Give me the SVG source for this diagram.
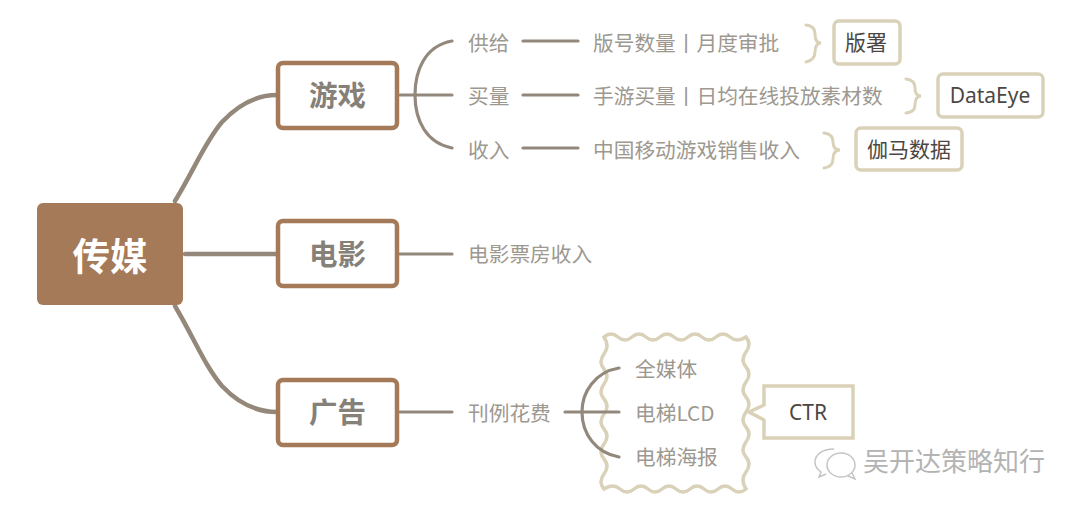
<svg xmlns="http://www.w3.org/2000/svg" width="1080" height="510" viewBox="0 0 1080 510">
<style>
text{font-family:"Noto Sans CJK SC","Noto Sans",sans-serif}
.conn{fill:none;stroke:#93887a;stroke-linecap:round}
.main{stroke-width:4.500}
.sub{stroke-width:3.200;stroke:#93887c}
.brace{fill:none;stroke:#d9d1b8;stroke-width:3;stroke-linecap:round}
.topic{fill:#fff;stroke:#a47a58;stroke-width:4.500}
.topic-t{font-size:28.500px;font-weight:700;fill:#858078;text-anchor:middle}
.leaf{font-size:20.700px;fill:#9d9890}
.tag{fill:#fff;stroke:#d9d1b8;stroke-width:3.500}
.tag-t{font-size:21px;fill:#4c4743;text-anchor:middle}
.outline{fill:#fff;stroke:#d9d1b8;stroke-width:3.500;stroke-linejoin:miter}
.wm{fill:none;stroke:#c4c4c4;stroke-width:1.500}
</style>
<rect width="1080" height="510" fill="#fff"/>
<g id="cloud"><path class="outline" d="M604 337 Q611 331 618 337 T632 337 T646 337 T660 337 T674 337 T688 337 T702 337 T716 337 T730 337 T746 337 Q752 344 746 352 T746 367 T746 382 T746 397 T746 412 T746 427 T746 442 T746 457 T746 472 T746 489 Q739 495 732 489 T718 489 T704 489 T690 489 T676 489 T662 489 T648 489 T634 489 T620 489 T604 489 Q598 482 604 474 T604 459 T604 444 T604 429 T604 414 T604 399 T604 384 T604 369 T604 354 T604 337 Z"/></g>
<g id="connectors">
<path class="conn main" d="M175 201 C195 168 205 142 222 122 C238 105 255 95 277 95"/>
<path class="conn main" d="M185 254 H277"/>
<path class="conn main" d="M175 306 C195 340 205 366 222 386 C238 403 255 412 277 412"/>
<path class="conn sub" d="M400 95 H452"/>
<path class="conn sub" d="M452 41 C424 46 415 72 415 95 C415 120 426 143 452 148"/>
<path class="conn sub" d="M523 41 H578"/>
<path class="conn sub" d="M523 95 H578"/>
<path class="conn sub" d="M523 148 H578"/>
<path class="conn sub" d="M400 254 H452"/>
<path class="conn sub" d="M400 412 H452"/>
<path class="conn sub" d="M565 412 H619"/>
<path class="conn sub" d="M619 368 C595 372 582 392 582 412 C582 434 596 453 619 457"/>
<path class="brace" d="M806 25 Q815 26 815 34 Q815 43 821 43 Q815 43 815 52 Q815 60 806 62"/>
<path class="brace" d="M906 79 Q915 80 915 88 Q915 96 921 96 Q915 96 915 105 Q915 112 906 113"/>
<path class="brace" d="M824 133 Q833 134 833 142 Q833 150 840 150 Q833 150 833 159 Q833 167 824 168"/>
</g>
<g id="n-root"><rect x="37" y="203" width="146" height="102" rx="6" fill="#a47a58"/><text x="110" y="270" font-size="37.500" font-weight="700" fill="#fff" text-anchor="middle">传媒</text></g>
<g id="n-game"><rect class="topic" x="278" y="63" width="119" height="65" rx="5"/><text class="topic-t" x="337.500" y="106">游戏</text></g>
<g id="n-film"><rect class="topic" x="278" y="221" width="119" height="65" rx="5"/><text class="topic-t" x="337.500" y="265">电影</text></g>
<g id="n-ad"><rect class="topic" x="278" y="380" width="119" height="65" rx="5"/><text class="topic-t" x="337.500" y="423">广告</text></g>
<g id="n-supply"><text class="leaf" x="468" y="51">供给</text></g>
<g id="n-buy"><text class="leaf" x="468" y="104">买量</text></g>
<g id="n-income"><text class="leaf" x="468" y="158">收入</text></g>
<g id="n-supply-d"><text class="leaf" x="593" y="51">版号数量丨月度审批</text></g>
<g id="n-buy-d"><text class="leaf" x="593" y="104">手游买量丨日均在线投放素材数</text></g>
<g id="n-income-d"><text class="leaf" x="593" y="158">中国移动游戏销售收入</text></g>
<g id="n-boxoffice"><text class="leaf" x="468" y="262">电影票房收入</text></g>
<g id="n-spend"><text class="leaf" x="468" y="421">刊例花费</text></g>
<g id="n-allmedia"><text class="leaf" x="635" y="377">全媒体</text></g>
<g id="n-lcd"><text class="leaf" x="635" y="421">电梯LCD</text></g>
<g id="n-poster"><text class="leaf" x="635" y="465">电梯海报</text></g>
<g id="n-banshu"><rect class="tag" x="834" y="21" width="66" height="43" rx="5"/><text class="tag-t" x="866" y="50">版署</text></g>
<g id="n-dataeye"><rect class="tag" x="938" y="74" width="105" height="43" rx="5"/><text class="tag-t" x="990" y="103" style="font-family:'Noto Sans',sans-serif">DataEye</text></g>
<g id="n-gamma"><rect class="tag" x="856" y="128" width="106" height="42" rx="5"/><text class="tag-t" x="909" y="157">伽马数据</text></g>
<g id="n-ctr"><path class="outline" d="M764 386 H853 V438 H764 V420 L749 412 L764 405 Z"/><text class="tag-t" x="808" y="420" style="font-family:'Noto Sans',sans-serif">CTR</text></g>
<g id="watermark">
<path class="wm" d="M834 449 C822 449 815 455 815 462 C815 467 818 470 821 472 L819 477 L826 474"/>
<ellipse class="wm" cx="841" cy="465" rx="14" ry="12"/>
<path class="wm" d="M848 476 L855 479 L852 473"/>
<text x="863" y="471" font-size="26" fill="#b3b3b3">吴开达策略知行</text>
</g>
</svg>
